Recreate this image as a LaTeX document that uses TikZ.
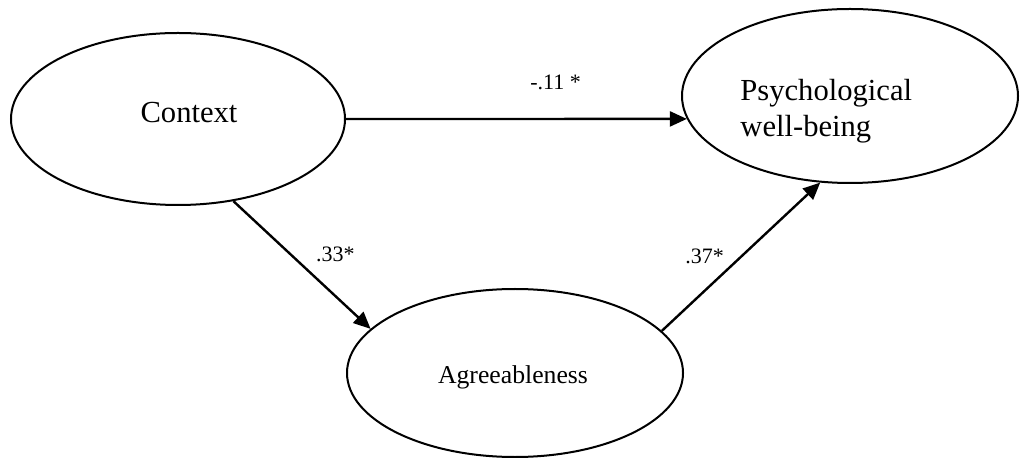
\documentclass[tikz,border=0pt]{standalone}
\usepackage{fontspec}
\setmainfont{Liberation Serif}
\usetikzlibrary{arrows.meta, shapes.geometric}

\begin{document}
\begin{tikzpicture}[
  x=0.5pt, y=-0.5pt,
  latent/.style={ellipse, draw=black, line width=1pt, inner sep=0pt, minimum width=168pt},
  varlabel/.style={inner sep=0pt, font=\fontsize{15.3}{18}\selectfont},
  coef/.style={inner sep=0pt, font=\fontsize{11}{13}\selectfont},
  arrow/.style={-{Triangle[length=8.5pt, width=7.5pt]}, line width=1.2pt}
]
\useasboundingbox (0,0) rectangle (1020,458);

% latent variables
\node[latent, minimum width=167pt, minimum height=86pt] (context) at (178,119) {};
\node[latent, minimum height=87pt] (wellbeing) at (850,96) {};
\node[latent, minimum height=84pt] (agree) at (515,373) {};

\node[varlabel] (context-text) at (189,113) {Context};
\node[varlabel, anchor=west, align=left] (wellbeing-text) at (740,111) {Psychological\\well-being};
\node[varlabel, font=\fontsize{12.85}{15}\selectfont] (agree-text) at (513,377) {Agreeableness};

% paths
\draw[arrow] (context.east) -- node[coef, pos=.615, above=14pt]{-.11 *} (wellbeing.188);
\draw[arrow] (context.-56.5) -- node[coef, pos=.42, right=12pt]{.33*} (agree.163.6);
\draw[arrow] (agree.16.2) -- node[coef, pos=.5, left=8pt]{.37*} (wellbeing.-109.6);
\end{tikzpicture}
\end{document}
